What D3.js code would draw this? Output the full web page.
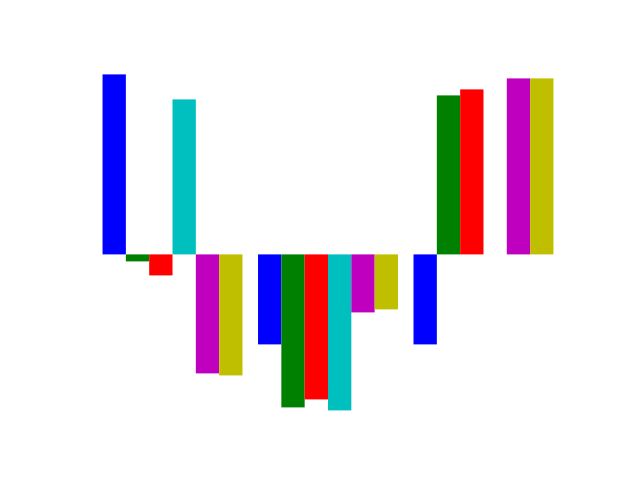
<!DOCTYPE html>
<html><head><meta charset="utf-8">
<script src="https://cdn.jsdelivr.net/npm/d3@7/dist/d3.min.js"></script>
<style>html,body{margin:0;padding:0;background:#fff;}</style>
</head><body>
<svg id="chart" width="640" height="480"></svg>
<script>
const groups = ["G1", "G2", "G3"];
const seriesNames = ["b", "g", "r", "c", "m", "y"];
const seriesColors = ["#0000ff", "#008000", "#ff0000", "#00bfbf", "#bf00bf", "#bfbf00"];
const valuesB = [1.80, -0.90, -0.90];
const valuesG = [-0.07, -1.53, 1.59];
const valuesR = [-0.21, -1.45, 1.65];
const valuesC = [1.55, -1.56, 0.00];
const valuesM = [-1.19, -0.58, 1.76];
const valuesY = [-1.21, -0.55, 1.76];
const seriesValues = [valuesB, valuesG, valuesR, valuesC, valuesM, valuesY];

const plotLeft = 80, plotRight = 576, plotTop = 57.6, plotBottom = 427.2;
const barW = 0.15;
const svg = d3.select("#chart");

const xMin = 0, xMax = (groups.length - 1) + seriesNames.length * barW;
const xPad = (xMax - xMin) * 0.05;
const x = d3.scaleLinear().domain([xMin - xPad, xMax + xPad]).range([plotLeft, plotRight]);

const allVals = seriesValues.flat().concat([0]);
const yLo = d3.min(allVals), yHi = d3.max(allVals);
const yPad = (yHi - yLo) * 0.05;
const y = d3.scaleLinear().domain([yLo - yPad, yHi + yPad]).range([plotBottom, plotTop]);

const bars = [];
seriesValues.forEach((vals, j) => {
  vals.forEach((v, i) => {
    bars.push({g: i, s: j, v: v});
  });
});

svg.append("g").selectAll("rect").data(bars).join("rect")
  .attr("x", d => x(d.g + d.s * barW))
  .attr("width", d => x(d.g + (d.s + 1) * barW) - x(d.g + d.s * barW))
  .attr("y", d => y(Math.max(0, d.v)))
  .attr("height", d => Math.abs(y(d.v) - y(0)))
  .attr("fill", d => seriesColors[d.s]);
</script>
</body></html>
